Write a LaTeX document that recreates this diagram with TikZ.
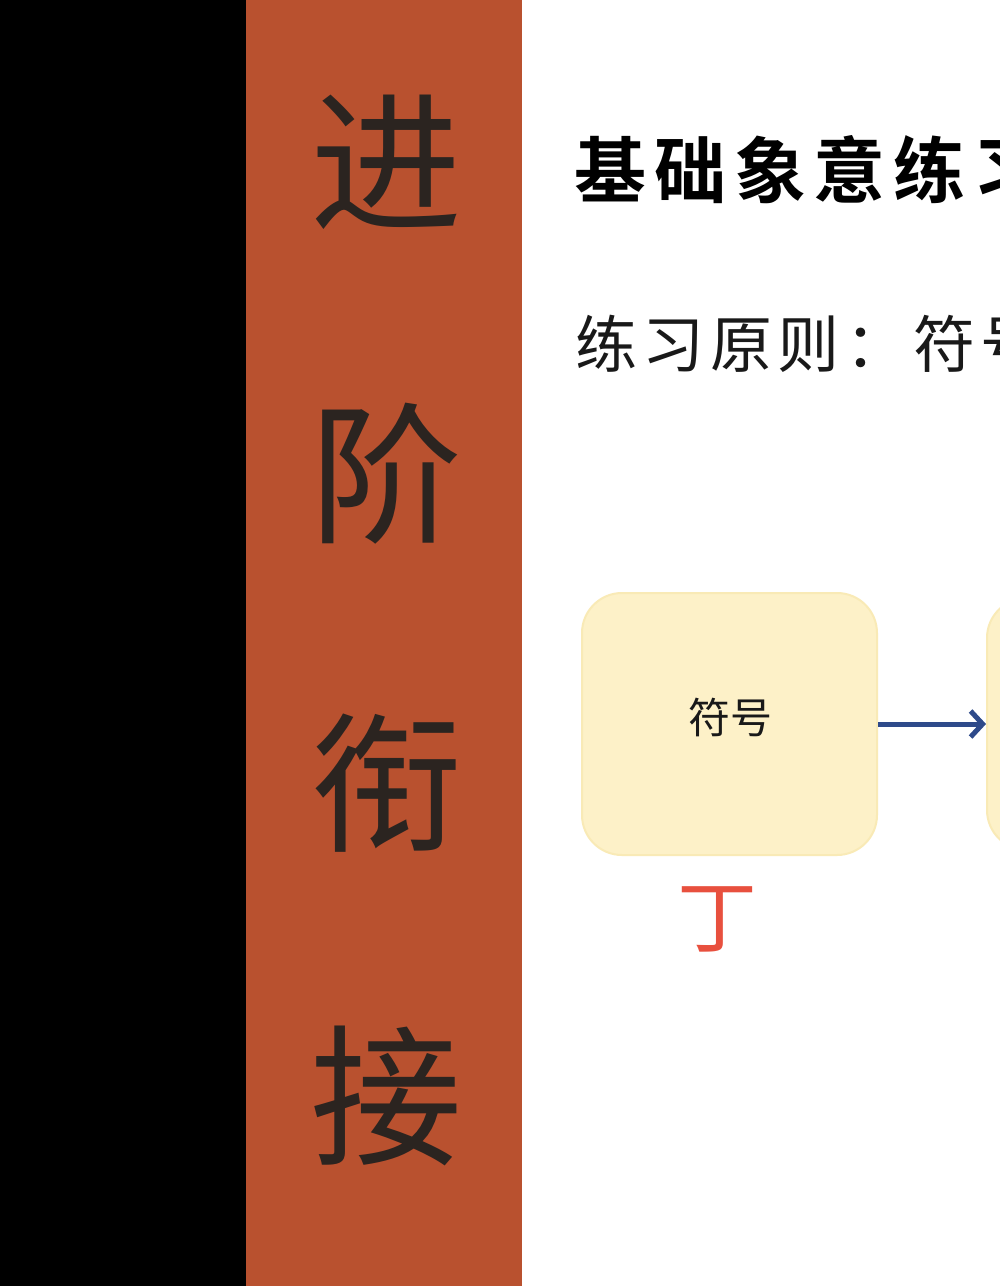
\documentclass[tikz,border=0pt]{standalone}
\usepackage{fontspec}
\newfontfamily\cjk{Noto Sans CJK SC}
\newfontfamily\cjktitle[LetterSpace=11]{Noto Sans CJK SC Bold}
\newfontfamily\cjksub[LetterSpace=9]{Noto Sans CJK SC}
\usetikzlibrary{arrows.meta}
\definecolor{stripcol}{HTML}{B9512F}
\definecolor{stripink}{HTML}{2B2420}
\definecolor{boxfill}{HTML}{FDF1C8}
\definecolor{boxedge}{HTML}{F9EAB6}
\definecolor{arrowcol}{HTML}{2E4A8A}
\definecolor{redink}{HTML}{E8503E}
\tikzset{
  striptext/.style={anchor=base, text=stripink, inner sep=0pt, font=\cjk\fontsize{152}{160}\selectfont},
  ybox/.style={draw=boxedge, line width=2pt, fill=boxfill, rounded corners=40pt, inner sep=0pt},
  boxtext/.style={anchor=base, inner sep=0pt, text=black!90, font=\cjk\fontsize{42}{46}\selectfont},
  flowarrow/.style={draw=arrowcol, line width=5pt, -{Straight Barb[length=12pt,width=26pt]}},
  titletext/.style={anchor=base west, inner sep=0pt, text=black, font=\cjktitle\fontsize{72}{76}\selectfont},
  subtext/.style={anchor=base west, inner sep=0pt, text=black!90, font=\cjksub\fontsize{62}{66}\selectfont},
  redtext/.style={anchor=base, inner sep=0pt, text=redink, font=\cjk\fontsize{80}{84}\selectfont}
}
\begin{document}
\begin{tikzpicture}[x=1pt,y=-1pt]
\useasboundingbox (0,0) rectangle (1000,1286);
\clip (0,0) rectangle (1000,1286);
\fill[white] (0,0) rectangle (1000,1286);
\fill[black] (0,0) rectangle (246,1286);
\fill[stripcol] (246,0) rectangle (522,1286);
% vertical strip characters
\node[striptext] (c1) at (386,219) {进};
\node[striptext] (c2) at (386,531) {阶};
\node[striptext] (c3) at (386,840) {衔};
\node[striptext] (c4) at (386,1153) {接};
% title and subtitle
\node[titletext] (title) at (574,197) {基础象意练习};
\node[subtext] (sub) at (575,367) {练习原则：符号};
% boxes
\node[ybox, minimum width=295pt, minimum height=262pt] (b1) at (729.5,724) {};
\node[boxtext] (t1) at (730,733) {符号};
\node[ybox, minimum width=313pt, minimum height=252pt] (b2) at (1143.5,724) {};
\draw[flowarrow] (b1.east) -- (b2.west);
\node[redtext] (ding) at (717,946) {丁};
\end{tikzpicture}
\end{document}
